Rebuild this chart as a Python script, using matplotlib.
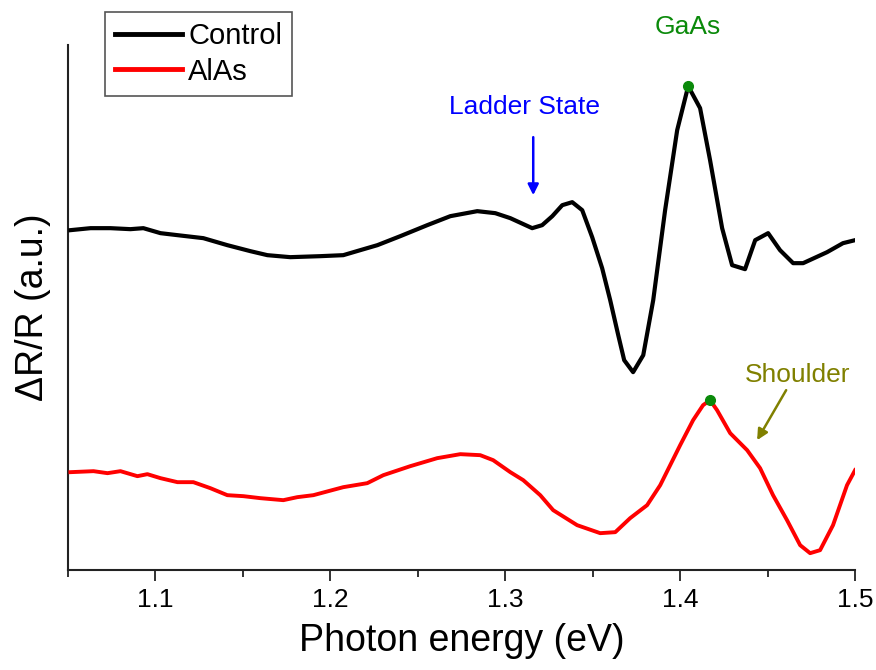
import matplotlib
matplotlib.use("Agg")
import matplotlib.pyplot as plt
from matplotlib.ticker import MultipleLocator

plt.rcParams['font.family'] = ['Liberation Sans', 'DejaVu Sans']

# photon energy (eV) and dR/R (a.u.)
control_e = [1.0514, 1.0629, 1.0743, 1.0857, 1.0931, 1.1029, 1.1126, 1.1274, 1.1411,
             1.1543, 1.1640, 1.1771, 1.1943, 1.2074, 1.2171, 1.2269, 1.2400, 1.2554,
             1.2686, 1.2840, 1.2943, 1.3029, 1.3154, 1.3211, 1.3269, 1.3326, 1.3383,
             1.3440, 1.3497, 1.3554, 1.3600, 1.3646, 1.3680, 1.3731, 1.3789, 1.3846,
             1.3914, 1.3983, 1.4046, 1.4114, 1.4171, 1.4240, 1.4297, 1.4371, 1.4429,
             1.4503, 1.4571, 1.4646, 1.4703, 1.4840, 1.4931, 1.5000]
control_r = [6.80, 6.84, 6.84, 6.82, 6.84, 6.74, 6.70, 6.64, 6.50,
             6.38, 6.30, 6.26, 6.28, 6.30, 6.40, 6.50, 6.68, 6.90,
             7.08, 7.18, 7.14, 7.04, 6.84, 6.90, 7.08, 7.30, 7.36,
             7.20, 6.66, 6.04, 5.40, 4.70, 4.20, 3.96, 4.30, 5.40,
             7.20, 8.80, 9.68, 9.24, 8.20, 6.84, 6.10, 6.02, 6.60,
             6.74, 6.40, 6.14, 6.14, 6.36, 6.54, 6.60]

alas_e = [1.0514, 1.0646, 1.0726, 1.0800, 1.0897, 1.0954, 1.1029, 1.1126, 1.1217,
          1.1314, 1.1411, 1.1503, 1.1600, 1.1731, 1.1811, 1.1903, 1.2074, 1.2211,
          1.2303, 1.2457, 1.2611, 1.2743, 1.2857, 1.2931, 1.3029, 1.3103, 1.3200,
          1.3274, 1.3411, 1.3543, 1.3629, 1.3714, 1.3811, 1.3886, 1.4000, 1.4074,
          1.4131, 1.4171, 1.4211, 1.4286, 1.4383, 1.4457, 1.4531, 1.4611, 1.4686,
          1.4743, 1.4800, 1.4874, 1.4954, 1.5000]
alas_r = [1.96, 1.98, 1.94, 1.98, 1.88, 1.92, 1.84, 1.76, 1.76,
          1.64, 1.50, 1.48, 1.44, 1.40, 1.46, 1.50, 1.66, 1.74,
          1.90, 2.08, 2.24, 2.32, 2.30, 2.20, 1.96, 1.80, 1.50,
          1.20, 0.90, 0.74, 0.76, 1.04, 1.30, 1.70, 2.50, 3.00,
          3.30, 3.40, 3.20, 2.74, 2.40, 2.04, 1.50, 1.00, 0.50,
          0.34, 0.40, 0.90, 1.70, 2.00]

# GaAs peak positions (green dots)
peak_e = [1.4046, 1.4171]
peak_r = [9.68, 3.40]

fig = plt.figure(figsize=(8.76, 6.70), dpi=100)
ax = fig.add_axes([0.0776, 0.149, 0.8985, 0.7836])

ax.plot(control_e, control_r, color="black", lw=3.0, label="Control", zorder=3)
ax.plot(alas_e, alas_r, color="#ff0000", lw=2.8, label="AlAs", zorder=3)
ax.plot(peak_e, peak_r, "o", color="#0a8a0a", ms=7, zorder=4)

ax.set_xlim(1.05, 1.5)
ax.set_ylim(0, 10.5)
ax.xaxis.set_major_locator(MultipleLocator(0.1))
ax.xaxis.set_minor_locator(MultipleLocator(0.05))
ax.set_yticks([])
for s in ("top", "right"):
  ax.spines[s].set_visible(False)
for s in ("left", "bottom"):
  ax.spines[s].set_linewidth(1.5)
  ax.spines[s].set_color("#222222")
ax.tick_params(axis="x", which="major", direction="out", length=8, width=1.3,
               labelsize=19, pad=5, color="#222222")
ax.tick_params(axis="x", which="minor", direction="out", length=5, width=1.3,
               color="#222222")
ax.set_xlabel("Photon energy (eV)", fontsize=27, labelpad=8)
ax.set_ylabel("ΔR/R (a.u.)", fontsize=27, labelpad=12)

ax.text(1.4046, 10.86, "GaAs", color="#0a8a0a", fontsize=19, ha="center", va="center",
        clip_on=False)
ax.text(1.3109, 9.26, "Ladder State", color="#0000ff", fontsize=19, ha="center",
        va="center")
ax.annotate("", xy=(1.3160, 7.50), xytext=(1.3160, 8.66),
            arrowprops=dict(arrowstyle="-|>", color="#0000ff", lw=1.8,
                            mutation_scale=16, shrinkA=0, shrinkB=0))
ax.text(1.4669, 3.90, "Shoulder", color="#808000", fontsize=19, ha="center",
        va="center")
ax.annotate("", xy=(1.4440, 2.60), xytext=(1.4606, 3.60),
            arrowprops=dict(arrowstyle="-|>", color="#808000", lw=1.8,
                            mutation_scale=16, shrinkA=0, shrinkB=0))

leg = ax.legend(loc="upper left", bbox_to_anchor=(0.12, 0.982),
                bbox_transform=fig.transFigure, fontsize=21, frameon=True,
                fancybox=False, framealpha=1, edgecolor="#555555",
                handlelength=2.3, handletextpad=0.2, labelspacing=0.25,
                borderpad=0.35, borderaxespad=0)
leg.get_frame().set_linewidth(1.2)
for line in leg.get_lines():
  line.set_linewidth(3.5)

fig.savefig("out.png", dpi=100)
